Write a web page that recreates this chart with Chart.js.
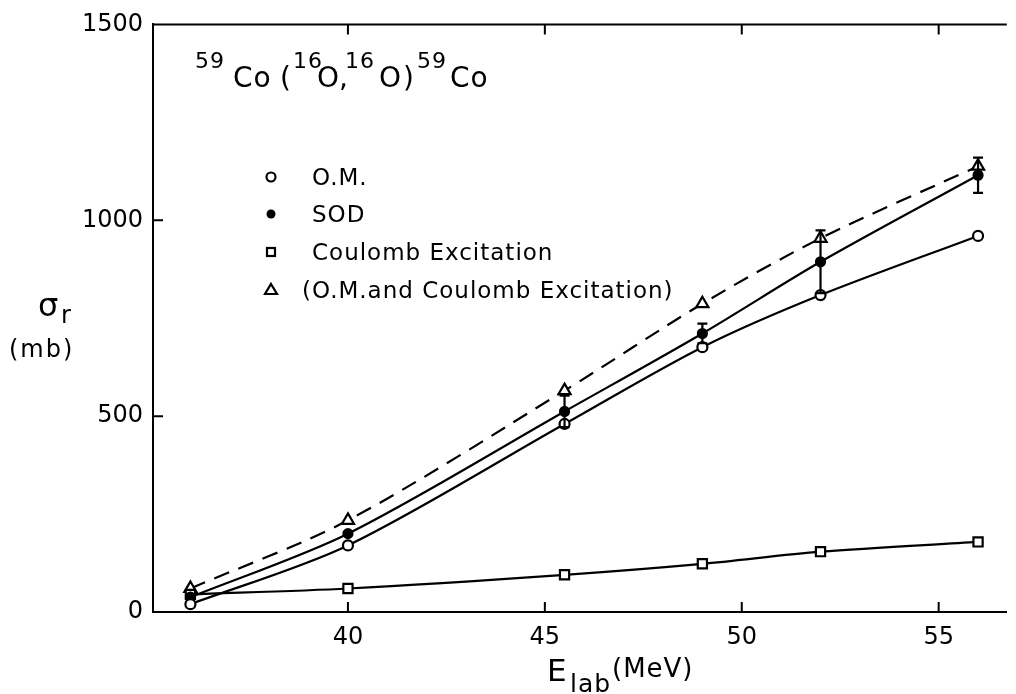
<!DOCTYPE html>
<html>
<head>
<meta charset="utf-8">
<script src="https://cdn.jsdelivr.net/npm/chart.js@4.4.1/dist/chart.umd.min.js"></script>
<style>
  html, body { margin: 0; padding: 0; background: #fff; overflow: hidden; }
  #wrap { width: 1016px; height: 694px; }
</style>
</head>
<body>
<div id="wrap"><canvas id="sigmaChart" width="1016" height="694"></canvas></div>
<script>
// beam energies (MeV) and cross sections (mb)
const energies = [36, 40, 45.5, 49, 52, 56];
const omValues = [20, 170, 480, 676, 809, 960];
const sodValues = [38, 200, 512, 711, 894, 1115];
const sodErrors = [0, 0, 40, 25, 80, 45];
const coulombValues = [45, 60, 95, 123, 154, 179];
const sumValues = [60, 234, 565, 787, 954, 1138];

const xTicks = [40, 45, 50, 55];
const yTicks = [0, 500, 1000, 1500];

const legendLabels = ['O.M.', 'SOD', 'Coulomb Excitation', '(O.M.and Coulomb Excitation)'];

const FONT = '"DejaVu Sans", sans-serif';
const INK = '#000';

function toPoints(values) {
    return energies.map((e, i) => ({ x: e, y: values[i] }));
}

const ctx = document.getElementById('sigmaChart');

// inward ticks, top frame line, error bars and all the lettering
const decorations = {
    id: 'decorations',
    afterDatasetsDraw(chart) {
        const c = chart.ctx;
        const xs = chart.scales.x;
        const ys = chart.scales.y;
        c.save();
        c.strokeStyle = INK;
        c.lineWidth = 2.2;
        sodValues.forEach((v, i) => {
            const err = sodErrors[i];
            if (!err) return;
            const px = xs.getPixelForValue(energies[i]);
            const top = ys.getPixelForValue(v + err);
            const bot = ys.getPixelForValue(v - err);
            c.beginPath();
            c.moveTo(px, top); c.lineTo(px, bot);
            c.moveTo(px - 5, top); c.lineTo(px + 5, top);
            c.moveTo(px - 5, bot); c.lineTo(px + 5, bot);
            c.stroke();
        });
        c.restore();
    },
    afterDraw(chart) {
        const c = chart.ctx;
        const area = chart.chartArea;
        const xs = chart.scales.x;
        const ys = chart.scales.y;
        c.save();
        c.strokeStyle = INK;
        c.lineWidth = 2;
        c.beginPath();
        c.moveTo(area.left - 1, area.top);
        c.lineTo(area.right, area.top);
        xTicks.forEach(v => {
            const px = xs.getPixelForValue(v);
            c.moveTo(px, area.bottom); c.lineTo(px, area.bottom - 10);
            c.moveTo(px, area.top); c.lineTo(px, area.top + 10);
        });
        yTicks.forEach(v => {
            const py = ys.getPixelForValue(v);
            c.moveTo(area.left, py); c.lineTo(area.left + 10, py);
        });
        c.stroke();

        c.fillStyle = INK;
        c.textBaseline = 'alphabetic';
        c.textAlign = 'left';

        // title: 59Co(16O,16O)59Co, pieces placed like the hand lettering
        const parts = [
            ['59', true, 195], ['Co', false, 233], ['(', false, 280], ['16', true, 293],
            ['O', false, 317], [',', false, 339], ['16', true, 345], ['O', false, 379],
            [')', false, 403], ['59', true, 417], ['Co', false, 450]
        ];
        c.letterSpacing = '1px';
        parts.forEach(([t, sup, px]) => {
            c.font = (sup ? '22px ' : '28px ') + FONT;
            c.fillText(t, px, sup ? 68 : 87);
        });

        // legend
        const rows = [177, 214, 252, 290];
        c.font = '23px ' + FONT;
        c.letterSpacing = '1px';
        legendLabels.forEach((t, i) => {
            c.fillText(t, i === 3 ? 302 : 312, rows[i] + 8);
        });
        c.letterSpacing = '0px';
        c.lineWidth = 2.2;
        const mx = 271;
        c.beginPath(); c.arc(mx, rows[0], 4.5, 0, Math.PI * 2); c.stroke();
        c.beginPath(); c.arc(mx, rows[1], 4.5, 0, Math.PI * 2); c.fill();
        c.strokeRect(mx - 4, rows[2] - 4, 8, 8);
        c.beginPath();
        c.moveTo(mx, rows[3] - 6); c.lineTo(mx + 6, rows[3] + 4); c.lineTo(mx - 6, rows[3] + 4);
        c.closePath(); c.stroke();

        // y title
        c.font = '32px ' + FONT;
        c.fillText('σ', 38, 316);
        c.font = '24px ' + FONT;
        c.fillText('r', 61, 323);
        c.letterSpacing = '2px';
        c.fillText('(mb)', 9, 357);

        // x title
        c.letterSpacing = '1px';
        c.font = '31px ' + FONT;
        c.fillText('E', 547, 681);
        c.font = '25px ' + FONT;
        c.fillText('lab', 570, 692);
        c.font = '26px ' + FONT;
        c.fillText('(MeV)', 612, 677);
        c.restore();
    }
};

function lineSet(label, values, style, order) {
    return Object.assign({
        label: label,
        data: toPoints(values),
        showLine: true,
        borderColor: INK,
        borderWidth: 2.2,
        pointBorderColor: INK,
        pointBorderWidth: 2.2,
        tension: 0.3,
        order: order
    }, style);
}

const datasets = [
    lineSet(legendLabels[0], omValues, { pointStyle: 'circle', pointRadius: 5, pointBackgroundColor: '#fff' }, 1),
    lineSet(legendLabels[1], sodValues, { pointStyle: 'circle', pointRadius: 4.5, pointBackgroundColor: INK }, 2),
    lineSet(legendLabels[2], coulombValues, { pointStyle: 'rect', pointRadius: 6.5, pointBackgroundColor: '#fff' }, 3),
    lineSet(legendLabels[3], sumValues, { pointStyle: 'triangle', pointRadius: 7, pointBackgroundColor: '#fff', borderDash: [16, 10] }, 4)
];

new Chart(ctx, {
    type: 'scatter',
    data: { datasets: datasets },
    options: {
        responsive: false,
        animation: false,
        events: [],
        layout: { padding: { top: 23, left: 0, right: 0, bottom: 0 } },
        plugins: {
            legend: { display: false },
            tooltip: { enabled: false }
        },
        scales: {
            x: {
                type: 'linear',
                min: 35.05,
                max: 56.73,
                afterFit: s => { s.height = 82; },
                afterBuildTicks: s => { s.ticks = xTicks.map(v => ({ value: v })); },
                grid: { display: false, drawTicks: false },
                border: { display: true, color: INK, width: 2 },
                ticks: { color: INK, padding: 11, font: { family: FONT, size: 24 }, callback: v => String(v) }
            },
            y: {
                type: 'linear',
                min: 0,
                max: 1500,
                afterFit: s => { s.width = 153; },
                afterBuildTicks: s => { s.ticks = yTicks.map(v => ({ value: v })); },
                grid: { display: false, drawTicks: false },
                border: { display: true, color: INK, width: 2 },
                ticks: { color: INK, padding: 10, font: { family: FONT, size: 24 }, callback: v => String(v) }
            }
        }
    },
    plugins: [decorations]
});
</script>
</body>
</html>
